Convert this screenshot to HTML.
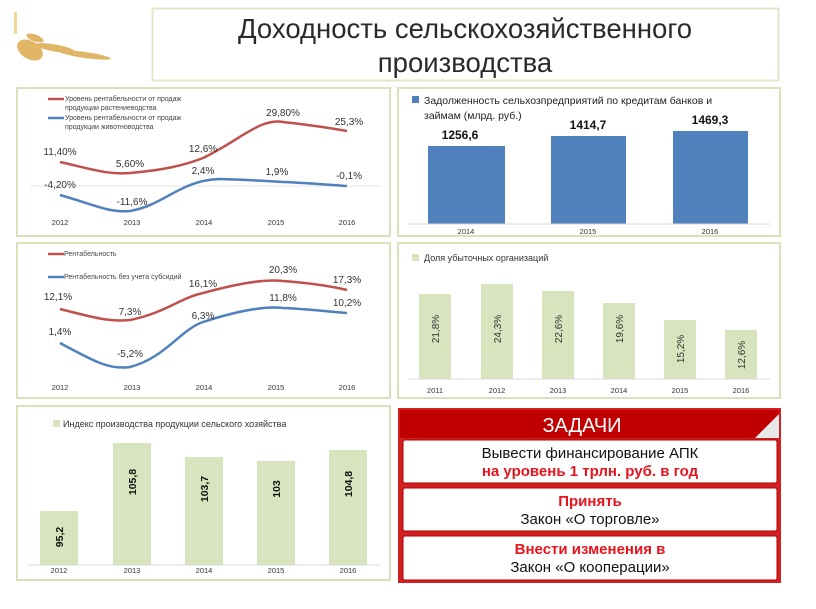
<!DOCTYPE html>
<html><head><meta charset="utf-8"><style>
body{margin:0;background:#fff}
svg{display:block;font-family:"Liberation Sans","DejaVu Sans",sans-serif}
</style></head><body>
<svg width="816" height="609" viewBox="0 0 816 609" xmlns="http://www.w3.org/2000/svg">
<rect width="816" height="609" fill="#fff"/>
<g fill="#d9a441" opacity="0.8">
<ellipse cx="30" cy="50" rx="14" ry="9" transform="rotate(30 30 50)"/>
<ellipse cx="55" cy="48" rx="20" ry="3.5" transform="rotate(10 55 48)"/>
<ellipse cx="85" cy="55" rx="26" ry="3" transform="rotate(8 85 55)"/>
<ellipse cx="35" cy="38" rx="9" ry="3.5" transform="rotate(20 35 38)"/>
</g>
<rect x="14" y="12" width="3" height="22" fill="#f0d79a"/>
<rect x="152.5" y="8.5" width="626" height="72" fill="#fff" stroke="#dfe8c9" stroke-width="2"/>
<g font-size="27.5" fill="#2a2a2a" text-anchor="middle">
<text x="465" y="38">Доходность сельскохозяйственного</text>
<text x="465" y="72">производства</text>
</g>
<g fill="none" stroke="#d6e3bb" stroke-width="2">
<rect x="17" y="88" width="373" height="148"/>
<rect x="398" y="88" width="382" height="148"/>
<rect x="17" y="243" width="373" height="155"/>
<rect x="398" y="243" width="382" height="155"/>
<rect x="17" y="406" width="373" height="174"/>
</g>
<line x1="30" y1="186" x2="380" y2="186" stroke="#e6e6e6"/>
<line x1="48" y1="99" x2="64" y2="99" stroke="#c0504d" stroke-width="2.5"/>
<line x1="48" y1="118" x2="64" y2="118" stroke="#4f81bd" stroke-width="2.5"/>
<g font-size="7" fill="#444">
<text x="65" y="101">Уровень рентабельности от продаж</text>
<text x="65" y="110">продукции растениеводства</text>
<text x="65" y="120">Уровень рентабельности от продаж</text>
<text x="65" y="129">продукции животноводства</text>
</g>
<path d="M60,162 C95,170 110,175 130,173 C165,170 185,165 203,158 C240,140 260,118 283,122 C310,125 330,128 347,131" fill="none" stroke="#c0504d" stroke-width="2.5"/>
<path d="M60,195 C95,205 110,213 130,211 C165,205 180,180 220,179 C250,180 270,181 283,182 C310,183 330,185 347,186" fill="none" stroke="#4f81bd" stroke-width="2.5"/>
<g font-size="10" fill="#333" text-anchor="middle">
<text x="60" y="155">11,40%</text><text x="130" y="167">5,60%</text><text x="203" y="152">12,6%</text>
<text x="283" y="116">29,80%</text><text x="349" y="125">25,3%</text>
<text x="60" y="188">-4,20%</text><text x="132" y="205">-11,6%</text><text x="203" y="174">2,4%</text>
<text x="277" y="175">1,9%</text><text x="349" y="179">-0,1%</text>
</g>
<g font-size="7.5" fill="#333" text-anchor="middle">
<text x="60" y="225">2012</text><text x="132" y="225">2013</text><text x="204" y="225">2014</text><text x="276" y="225">2015</text><text x="347" y="225">2016</text>
</g>
<rect x="412" y="96" width="7" height="7" fill="#4f81bd"/>
<g font-size="10.5" fill="#222">
<text x="424" y="104">Задолженность сельхозпредприятий по кредитам банков и</text>
<text x="424" y="119">займам (млрд. руб.)</text>
</g>
<g fill="#4f81bd">
<rect x="428" y="146" width="77" height="78"/><rect x="551" y="136" width="75" height="88"/><rect x="673" y="131" width="75" height="93"/>
</g>
<line x1="408" y1="224" x2="770" y2="224" stroke="#d9d9d9"/>
<g font-size="12" font-weight="bold" fill="#111" text-anchor="middle">
<text x="460" y="139">1256,6</text><text x="588" y="129">1414,7</text><text x="710" y="124">1469,3</text>
</g>
<g font-size="7.5" fill="#333" text-anchor="middle">
<text x="466" y="234">2014</text><text x="588" y="234">2015</text><text x="710" y="234">2016</text>
</g>
<line x1="48" y1="254" x2="64" y2="254" stroke="#c0504d" stroke-width="2.5"/>
<line x1="48" y1="277" x2="64" y2="277" stroke="#4f81bd" stroke-width="2.5"/>
<g font-size="7" fill="#444"><text x="64" y="256">Рентабельность</text><text x="64" y="279">Рентабельность без учета субсидий</text></g>
<path d="M60,309 C95,318 110,322 130,320 C165,313 180,298 203,293 C240,283 265,279 283,281 C310,283 330,286 347,290" fill="none" stroke="#c0504d" stroke-width="2.5"/>
<path d="M60,343 C95,362 110,370 130,367 C165,358 180,330 203,322 C240,310 265,306 283,308 C310,309 330,312 347,313" fill="none" stroke="#4f81bd" stroke-width="2.5"/>
<g font-size="10" fill="#333" text-anchor="middle">
<text x="58" y="300">12,1%</text><text x="130" y="315">7,3%</text><text x="203" y="287">16,1%</text><text x="283" y="273">20,3%</text><text x="347" y="283">17,3%</text>
<text x="60" y="335">1,4%</text><text x="130" y="357">-5,2%</text><text x="203" y="319">6,3%</text><text x="283" y="301">11,8%</text><text x="347" y="306">10,2%</text>
</g>
<g font-size="7.5" fill="#333" text-anchor="middle">
<text x="60" y="390">2012</text><text x="132" y="390">2013</text><text x="204" y="390">2014</text><text x="276" y="390">2015</text><text x="347" y="390">2016</text>
</g>
<rect x="412" y="254" width="7" height="7" fill="#d7e4bd"/>
<text x="424" y="261" font-size="9" fill="#333">Доля убыточных организаций</text>
<g fill="#d7e4bd">
<rect x="419" y="294" width="32" height="85"/><rect x="481" y="284" width="32" height="95"/><rect x="542" y="291" width="32" height="88"/>
<rect x="603" y="303" width="32" height="76"/><rect x="664" y="320" width="32" height="59"/><rect x="725" y="330" width="32" height="49"/>
</g>
<line x1="408" y1="379" x2="770" y2="379" stroke="#d9d9d9"/>
<g font-size="10" fill="#333" text-anchor="middle">
<text transform="translate(439,329) rotate(-90)">21,8%</text><text transform="translate(501,329) rotate(-90)">24,3%</text>
<text transform="translate(562,329) rotate(-90)">22,6%</text><text transform="translate(623,329) rotate(-90)">19,6%</text>
<text transform="translate(684,349) rotate(-90)">15,2%</text><text transform="translate(745,355) rotate(-90)">12,6%</text>
</g>
<g font-size="7.5" fill="#333" text-anchor="middle">
<text x="435" y="393">2011</text><text x="497" y="393">2012</text><text x="558" y="393">2013</text><text x="619" y="393">2014</text><text x="680" y="393">2015</text><text x="741" y="393">2016</text>
</g>
<rect x="53" y="420" width="7" height="7" fill="#d7e4bd"/>
<text x="63" y="427" font-size="9" fill="#333">Индекс производства продукции сельского хозяйства</text>
<g fill="#d7e4bd">
<rect x="40" y="511" width="38" height="54"/><rect x="113" y="443" width="38" height="122"/><rect x="185" y="457" width="38" height="108"/>
<rect x="257" y="461" width="38" height="104"/><rect x="329" y="450" width="38" height="115"/>
</g>
<line x1="28" y1="565" x2="380" y2="565" stroke="#d9d9d9"/>
<g font-size="10.5" font-weight="bold" fill="#111" text-anchor="middle">
<text transform="translate(63,537) rotate(-90)">95,2</text><text transform="translate(136,482) rotate(-90)">105,8</text>
<text transform="translate(208,489) rotate(-90)">103,7</text><text transform="translate(280,489) rotate(-90)">103</text>
<text transform="translate(352,484) rotate(-90)">104,8</text>
</g>
<g font-size="7.5" fill="#333" text-anchor="middle">
<text x="59" y="573">2012</text><text x="132" y="573">2013</text><text x="204" y="573">2014</text><text x="276" y="573">2015</text><text x="348" y="573">2016</text>
</g>
<rect x="398" y="408" width="383" height="175" fill="#d21f1f"/>
<rect x="400" y="410" width="379" height="28" fill="#c00000"/>
<polygon points="755,438 779,438 779,414" fill="#e8e8e8"/>
<text x="582" y="432" font-size="20" fill="#fff" text-anchor="middle">ЗАДАЧИ</text>
<g fill="#fff" stroke="#b00000" stroke-width="1">
<rect x="403" y="440" width="374" height="43" rx="2"/><rect x="403" y="488" width="374" height="43" rx="2"/><rect x="403" y="536" width="374" height="44" rx="2"/>
</g>
<g font-size="15" text-anchor="middle">
<text x="590" y="458" fill="#111">Вывести финансирование АПК</text>
<text x="590" y="476" fill="#e8141c" font-weight="bold">на уровень 1 трлн. руб. в год</text>
<text x="590" y="506" fill="#e8141c" font-weight="bold">Принять</text>
<text x="590" y="524" fill="#111">Закон «О торговле»</text>
<text x="590" y="554" fill="#e8141c" font-weight="bold">Внести изменения в</text>
<text x="590" y="572" fill="#111">Закон «О кооперации»</text>
</g>
</svg>
</body></html>
